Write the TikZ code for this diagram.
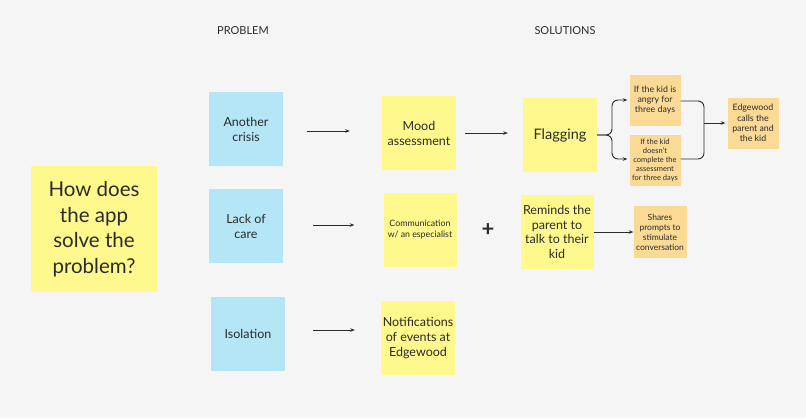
\documentclass[tikz,border=0pt]{standalone}
\usepackage{fontspec}
\setmainfont{Lato}
\usetikzlibrary{arrows.meta}
\definecolor{bg}{HTML}{F5F5F5}
\definecolor{bluenote}{HTML}{B5E6F6}
\definecolor{yellownote}{HTML}{FFF88C}
\definecolor{orangenote}{HTML}{FBDA95}
\definecolor{ink}{HTML}{2B2B2B}
\tikzset{
  note/.style={inner sep=0pt, align=center, text=ink},
  blue/.style={note, fill=bluenote, minimum width=74pt, minimum height=74pt},
  yellow/.style={note, fill=yellownote, minimum width=74pt, minimum height=74pt},
  orange/.style={note, fill=orangenote, minimum width=51pt, minimum height=51pt},
  arr/.style={draw=ink, line width=0.9pt, -{Stealth[length=4.5pt,width=3.5pt]}},
  heading/.style={text=ink, font=\fontsize{11}{13}\selectfont},
}
\begin{document}
\begin{tikzpicture}[x=1pt,y=-1pt]
\fill[bg] (0,0) rectangle (806,418);
\useasboundingbox (0,0) rectangle (806,418);

\node[heading] (hprob) at (243,31) {PROBLEM};
\node[heading] (hsol) at (565,31) {SOLUTIONS};

\node[yellow, minimum width=126pt, minimum height=126pt, font=\fontsize{20.5}{25.5}\selectfont] (q) at (94,229) {How does\\the app\\solve the\\problem?};

\node[blue, font=\fontsize{12.5}{15}\selectfont] (crisis) at (246,129) {Another\\crisis};
\node[blue, font=\fontsize{12.5}{15}\selectfont] (care) at (246,226) {Lack of\\care};
\node[blue, font=\fontsize{12.5}{15}\selectfont] (iso) at (248,334) {Isolation};

\node[yellow, font=\fontsize{12.5}{15}\selectfont] (mood) at (419,133) {Mood\\assessment};
\node[yellow, minimum width=73pt, font=\fontsize{8.8}{11}\selectfont] (comm) at (420,230) {Communication\\w/ an especialist};
\node[yellow, font=\fontsize{12.5}{15}\selectfont] (notif) at (418,338) {Notifications\\of events at\\Edgewood};

\node[yellow, font=\fontsize{14.5}{17}\selectfont] (flag) at (560,135) {Flagging};
\node[yellow, minimum width=73pt, font=\fontsize{12.5}{14.4}\selectfont] (remind) at (557,232) {Reminds the\\parent to\\talk to their\\kid};

\node[font=\fontsize{22}{22}\selectfont\bfseries, text=ink] (plus) at (488,230) {+};

\node[orange, font=\fontsize{8.8}{10.3}\selectfont] (angry) at (655,100) {If the kid is\\angry for\\three days};
\node[orange, font=\fontsize{7.5}{9}\selectfont] (nocomp) at (655,160) {If the kid\\doesn't\\complete the\\assessment\\for three days};
\node[orange, font=\fontsize{8.8}{10.3}\selectfont] (calls) at (753,123) {Edgewood\\calls the\\parent and\\the kid};
\node[orange, minimum width=53pt, minimum height=52pt, font=\fontsize{8.5}{10}\selectfont] (shares) at (660,232) {Shares\\prompts to\\stimulate\\conversation};

\draw[arr, shorten <=24pt, shorten >=32pt] (crisis.east |- 0,131) -- (mood.west |- 0,131);
\draw[arr, shorten <=30pt, shorten >=29pt] (care.east |- 0,225) -- (comm.west |- 0,225);
\draw[arr, shorten <=28pt, shorten >=26pt] (iso.east |- 0,330) -- (notif.west |- 0,330);
\draw[arr, shorten <=9pt, shorten >=15pt] (mood.east) -- (flag.west |- mood.east);

\coordinate (j1) at (612,135);
\draw[arr, rounded corners=6pt, shorten >=2pt] (flag.east) -- (j1) |- (angry.west);
\draw[arr, rounded corners=6pt, shorten >=2pt] (flag.east) -- (j1) |- (nocomp.west |- 0,159);

\coordinate (j2) at (704,123);
\draw[line width=0.9pt, draw=ink, rounded corners=6pt] (angry.east |- 0,101) -| (j2);
\draw[line width=0.9pt, draw=ink, rounded corners=6pt] (nocomp.east |- 0,159) -| (j2);
\draw[arr, shorten >=2pt] (j2) -- (calls.west);

\draw[arr] (remind.east) -- (shares.west);
\end{tikzpicture}
\end{document}
